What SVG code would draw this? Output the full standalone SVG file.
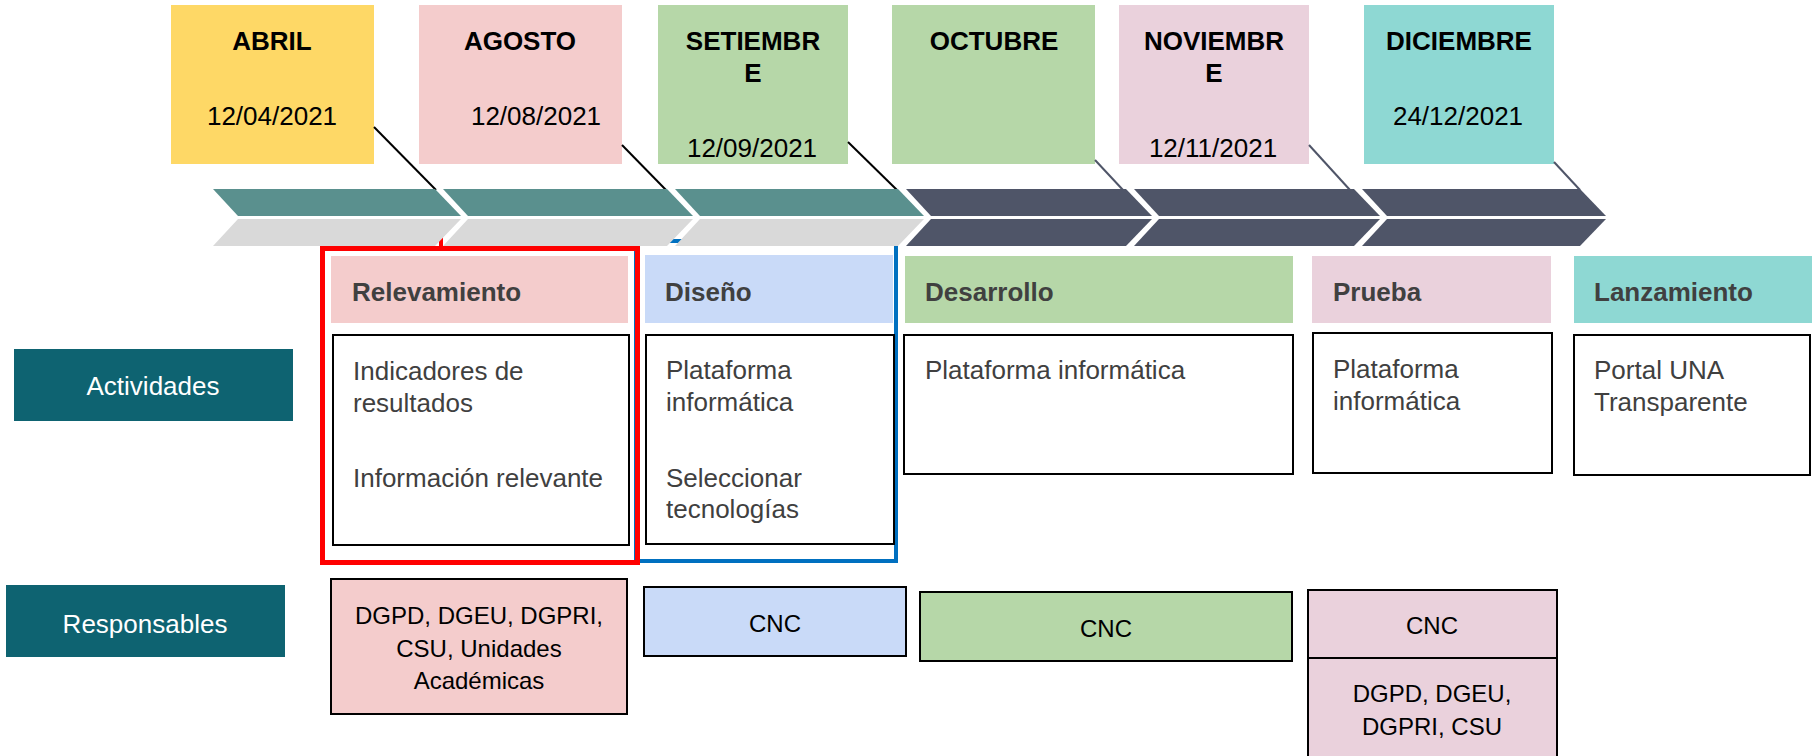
<svg xmlns="http://www.w3.org/2000/svg" width="1812" height="756" viewBox="0 0 1812 756">
<style>
text{font-family:"Liberation Sans",Arial,sans-serif}
.mon{font-size:26px;font-weight:bold;fill:#000;text-anchor:middle}
.dt{font-size:26px;fill:#000;text-anchor:middle}
.hd{font-size:26px;font-weight:bold;fill:#404040}
.ct{font-size:26px;fill:#404040}
.lab{font-size:26px;fill:#fff;text-anchor:middle}
.rs{font-size:24px;fill:#000;text-anchor:middle}
.box{fill:#fff;stroke:#000;stroke-width:2}
.rbox{stroke:#000;stroke-width:2}
.teal{fill:#5a908e}
.gray{fill:#d9d9d9}
.dark{fill:#4f5568}
</style>
<rect width="1812" height="756" fill="#fff"/>

<!-- highlight frames (under chevrons) -->
<g id="frame-diseno">
<rect x="636" y="241" width="260" height="320" fill="none" stroke="#0070c0" stroke-width="4"/>
</g>
<g id="frame-relevamiento">
<line x1="441" y1="236" x2="441" y2="250" stroke="#ff0000" stroke-width="4"/>
<rect x="322.5" y="248.5" width="315" height="314" fill="none" stroke="#ff0000" stroke-width="5"/>
</g>

<!-- month boxes -->
<g id="m-abril">
<rect x="171" y="5" width="203" height="159" fill="#fed866"/>
<text class="mon" x="272" y="50">ABRIL</text>
<text class="dt" x="272" y="125">12/04/2021</text>
</g>
<g id="m-agosto">
<rect x="419" y="5" width="203" height="159" fill="#f4cccc"/>
<text class="mon" x="520" y="50">AGOSTO</text>
<text class="dt" x="536" y="125">12/08/2021</text>
</g>
<g id="m-setiembre">
<rect x="658" y="5" width="190" height="159" fill="#b6d7a8"/>
<text class="mon" x="753" y="50">SETIEMBR</text>
<text class="mon" x="753" y="82">E</text>
<text class="dt" x="752" y="157">12/09/2021</text>
</g>
<g id="m-octubre">
<rect x="892" y="5" width="203" height="159" fill="#b6d7a8"/>
<text class="mon" x="994" y="50">OCTUBRE</text>
</g>
<g id="m-noviembre">
<rect x="1119" y="5" width="190" height="159" fill="#ead1dc"/>
<text class="mon" x="1214" y="50">NOVIEMBR</text>
<text class="mon" x="1214" y="82">E</text>
<text class="dt" x="1213" y="157">12/11/2021</text>
</g>
<g id="m-diciembre">
<rect x="1364" y="5" width="190" height="159" fill="#8ed8d3"/>
<text class="mon" x="1459" y="50">DICIEMBRE</text>
<text class="dt" x="1458" y="125">24/12/2021</text>
</g>

<!-- connectors -->
<g id="connectors" stroke-width="2" fill="none">
<line x1="374" y1="127" x2="436" y2="190" stroke="#000"/>
<line x1="622" y1="145" x2="666" y2="190" stroke="#000"/>
<line x1="848" y1="142" x2="897" y2="190" stroke="#000"/>
<line x1="1095" y1="160" x2="1123" y2="190" stroke="#4f5568"/>
<line x1="1309" y1="145" x2="1350" y2="190" stroke="#4f5568"/>
<line x1="1554" y1="162" x2="1580" y2="190" stroke="#4f5568"/>
</g>

<!-- timeline chevrons -->
<g id="timeline">
<polygon class="teal" points="213,189 435,189 461,216 238,216"/>
<polygon class="gray" points="238,219 461,219 435,246 213,246"/>
<polygon class="teal" points="443,189 667,189 693,216 468,216"/>
<polygon class="gray" points="468,219 693,219 667,246 443,246"/>
<polygon class="teal" points="675,189 898,189 924,216 700,216"/>
<polygon class="gray" points="700,219 924,219 898,246 675,246"/>
<polygon class="dark" points="906,189 1126,189 1152,216 931,216"/>
<polygon class="dark" points="931,219 1152,219 1126,246 906,246"/>
<polygon class="dark" points="1134,189 1354,189 1380,216 1159,216"/>
<polygon class="dark" points="1159,219 1380,219 1354,246 1134,246"/>
<polygon class="dark" points="1362,189 1580,189 1606,216 1387,216"/>
<polygon class="dark" points="1387,219 1606,219 1580,246 1362,246"/>
</g>

<!-- row labels -->
<g id="lbl-actividades">
<rect x="14" y="349" width="279" height="72" fill="#0e6371"/>
<text class="lab" x="153" y="395">Actividades</text>
</g>
<g id="lbl-responsables">
<rect x="6" y="585" width="279" height="72" fill="#0e6371"/>
<text class="lab" x="145" y="633">Responsables</text>
</g>

<!-- phases -->
<g id="p-relevamiento">
<rect x="331" y="256" width="297" height="67" fill="#f4cccc"/>
<text class="hd" x="352" y="301">Relevamiento</text>
<rect class="box" x="333" y="335" width="296" height="210"/>
<text class="ct" x="353" y="380">Indicadores de</text>
<text class="ct" x="353" y="412">resultados</text>
<text class="ct" x="353" y="487">Información relevante</text>
</g>
<g id="p-diseno">
<rect x="645" y="255" width="248" height="68" fill="#c9daf8"/>
<text class="hd" x="665" y="301">Diseño</text>
<rect class="box" x="646" y="335" width="248" height="209"/>
<text class="ct" x="666" y="379">Plataforma</text>
<text class="ct" x="666" y="411">informática</text>
<text class="ct" x="666" y="487">Seleccionar</text>
<text class="ct" x="666" y="518">tecnologías</text>
</g>
<g id="p-desarrollo">
<rect x="905" y="256" width="388" height="67" fill="#b6d7a8"/>
<text class="hd" x="925" y="301">Desarrollo</text>
<rect class="box" x="904" y="335" width="389" height="139"/>
<text class="ct" x="925" y="379">Plataforma informática</text>
</g>
<g id="p-prueba">
<rect x="1312" y="256" width="239" height="67" fill="#ead1dc"/>
<text class="hd" x="1333" y="301">Prueba</text>
<rect class="box" x="1313" y="333" width="239" height="140"/>
<text class="ct" x="1333" y="378">Plataforma</text>
<text class="ct" x="1333" y="410">informática</text>
</g>
<g id="p-lanzamiento">
<rect x="1574" y="256" width="238" height="67" fill="#8ed8d3"/>
<text class="hd" x="1594" y="301">Lanzamiento</text>
<rect class="box" x="1574" y="335" width="236" height="140"/>
<text class="ct" x="1594" y="379">Portal UNA</text>
<text class="ct" x="1594" y="411">Transparente</text>
</g>

<!-- responsables -->
<g id="r-relevamiento">
<rect class="rbox" x="331" y="579" width="296" height="135" fill="#f4cccc"/>
<text class="rs" x="479" y="624">DGPD, DGEU, DGPRI,</text>
<text class="rs" x="479" y="657">CSU, Unidades</text>
<text class="rs" x="479" y="689">Académicas</text>
</g>
<g id="r-diseno">
<rect class="rbox" x="644" y="587" width="262" height="69" fill="#c9daf8"/>
<text class="rs" x="775" y="632">CNC</text>
</g>
<g id="r-desarrollo">
<rect class="rbox" x="920" y="592" width="372" height="69" fill="#b6d7a8"/>
<text class="rs" x="1106" y="637">CNC</text>
</g>
<g id="r-prueba">
<rect class="rbox" x="1308" y="590" width="249" height="175" fill="#ead1dc"/>
<line x1="1308" y1="658" x2="1557" y2="658" stroke="#000" stroke-width="2"/>
<text class="rs" x="1432" y="634">CNC</text>
<text class="rs" x="1432" y="702">DGPD, DGEU,</text>
<text class="rs" x="1432" y="735">DGPRI, CSU</text>
</g>
</svg>
